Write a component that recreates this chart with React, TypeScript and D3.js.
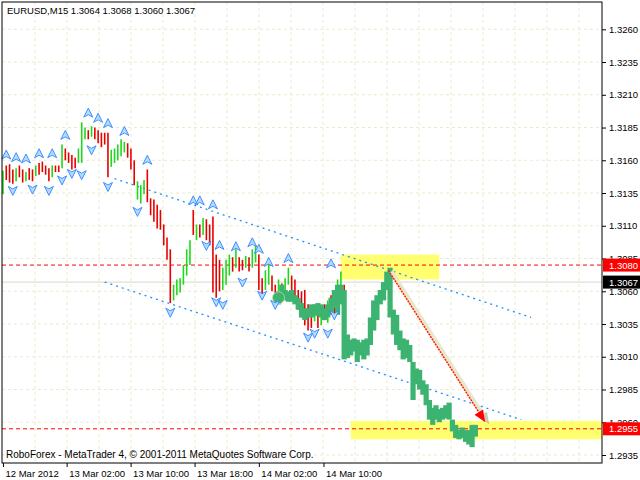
import { useEffect, useRef } from "react";
import { select, scaleLinear, axisRight, axisBottom, range } from "d3";

const FONT = "'Liberation Sans', Arial, sans-serif";

const chartTitle = "EURUSD,M15  1.3064 1.3068 1.3060 1.3067";
const footerText = "RoboForex - MetaTrader 4, \u00a9 2001-2011 MetaQuotes Software Corp.";

const priceTicks = [1.326, 1.3235, 1.321, 1.3185, 1.316, 1.3135, 1.311, 1.3085, 1.306, 1.3035, 1.301, 1.2985, 1.296, 1.2935];
const timeLabels = ["12 Mar 2012", "13 Mar 02:00", "13 Mar 10:00", "13 Mar 18:00", "14 Mar 02:00", "14 Mar 10:00"];
const timeLabelBars = [0, 19.4, 38.9, 58.4, 78, 97.7];

// OHLC bars (high / low / direction)
const barHigh = [
  1.3152, 1.3156, 1.3157, 1.3153, 1.3154, 1.3156, 1.3153, 1.3151, 1.3154, 1.3153,
  1.3156, 1.3158, 1.3159, 1.3156, 1.3154, 1.3156, 1.3156, 1.3156, 1.3172, 1.3169,
  1.3166, 1.3164, 1.3162, 1.3169, 1.3189, 1.3185, 1.3183, 1.3186, 1.3185, 1.3183,
  1.3181, 1.3181, 1.3181, 1.3168, 1.3169, 1.3172, 1.3176, 1.3174, 1.3173, 1.3169,
  1.316, 1.3144, 1.3141, 1.3145, 1.3153, 1.3131, 1.313, 1.3126, 1.3122, 1.3111,
  1.3101, 1.3092, 1.3065, 1.3069, 1.307, 1.308, 1.3092, 1.3099, 1.3122, 1.3111,
  1.3111, 1.3116, 1.3115, 1.3111, 1.3117, 1.3088, 1.3084, 1.3078, 1.3084, 1.3088,
  1.3086, 1.3092, 1.3086, 1.3084, 1.3087, 1.3086, 1.3092, 1.3095, 1.3088, 1.307,
  1.3076, 1.3082, 1.3072, 1.3065, 1.3069, 1.3066, 1.307, 1.3078, 1.3072, 1.3069,
  1.3061, 1.306, 1.3061, 1.305, 1.3047, 1.305, 1.3046, 1.3047, 1.305, 1.3053,
  1.3057, 1.3053, 1.3069, 1.3075, 1.3065,
];
const barLow = [
  1.3134, 1.3145, 1.3143, 1.3142, 1.3144, 1.3147, 1.3143, 1.3144, 1.3145, 1.3144,
  1.3148, 1.3149, 1.3151, 1.3149, 1.3144, 1.3147, 1.3151, 1.3151, 1.3154, 1.316,
  1.3158, 1.3153, 1.3154, 1.3158, 1.3158, 1.3176, 1.3176, 1.3178, 1.3176, 1.3173,
  1.317, 1.3172, 1.3147, 1.3155, 1.3158, 1.316, 1.3163, 1.3166, 1.3162, 1.3153,
  1.3141, 1.313, 1.3127, 1.3134, 1.3128, 1.3118, 1.3113, 1.3108, 1.3107, 1.3095,
  1.3084, 1.3051, 1.3053, 1.3057, 1.3059, 1.3065, 1.3072, 1.308, 1.3103, 1.3099,
  1.3101, 1.3103, 1.3099, 1.3095, 1.3059, 1.3055, 1.306, 1.3061, 1.3065, 1.3072,
  1.3075, 1.3078, 1.3075, 1.3076, 1.3078, 1.3075, 1.3078, 1.3082, 1.3061, 1.3057,
  1.3061, 1.3065, 1.306, 1.3051, 1.3057, 1.3055, 1.306, 1.3065, 1.3061, 1.3053,
  1.3046, 1.304, 1.3034, 1.303, 1.3032, 1.3037, 1.3032, 1.3034, 1.3038, 1.3036,
  1.3042, 1.304, 1.3053, 1.306, 1.304,
];
const barDir = [
  "GRRRGRRGRR", "GRRRRGRRGR", "RRRGGGRGRR", "RRRGGGGGRR", "RGGGRRRRRR",
  "RRGGGGGGRG", "RGRRRRRGGG", "RGRRGRGGRR", "GGRRGRGGRR", "RRRRRGRGRG", "RRGGR",
].join("");

// overlaid price path (thick green)
const greenStart = 84;
const greenHigh = [
  1.306, 1.3065, 1.3061, 1.306, 1.3061, 1.3057, 1.3055, 1.3051, 1.3047, 1.3047,
  1.305, 1.305, 1.3051, 1.305, 1.3047, 1.305, 1.3055, 1.3061, 1.3065, 1.3065,
  1.3061, 1.3027, 1.3023, 1.3024, 1.3023, 1.3021, 1.3023, 1.3024, 1.304, 1.3053,
  1.3057, 1.3061, 1.3067, 1.3075, 1.3078, 1.3046, 1.3042, 1.303, 1.3024, 1.3023,
  1.3019, 1.3004, 1.3001, 1.3, 1.2992, 1.2989, 1.2977, 1.2971, 1.2973, 1.297,
  1.2971, 1.2973, 1.2975, 1.2962, 1.2958, 1.2954, 1.2956, 1.2954, 1.2954, 1.2958, 1.2958,
];
const greenLow = [
  1.305, 1.3053, 1.3053, 1.3052, 1.3052, 1.305, 1.3046, 1.304, 1.3038, 1.304,
  1.304, 1.3042, 1.3041, 1.304, 1.3038, 1.304, 1.3044, 1.3047, 1.3042, 1.305,
  1.3008, 1.3009, 1.3011, 1.3014, 1.3006, 1.3011, 1.3008, 1.3011, 1.3019, 1.303,
  1.3038, 1.305, 1.3053, 1.3061, 1.304, 1.3027, 1.3019, 1.3015, 1.3008, 1.3009,
  1.3006, 1.2977, 1.2989, 1.2985, 1.2981, 1.2973, 1.2962, 1.2958, 1.2962, 1.296,
  1.2962, 1.2963, 1.2962, 1.2953, 1.2948, 1.2947, 1.2948, 1.2945, 1.2943, 1.2941, 1.2949,
];

// fractals: [bar, price]
const upFractals: [number, number][] = [
  [1, 1.3164], [4, 1.3162], [7, 1.3161], [11, 1.3165], [15, 1.3165], [19, 1.3179],
  [26, 1.3196], [29, 1.3192], [32, 1.3188], [37, 1.3182], [44, 1.316], [58, 1.3129],
  [60, 1.3129], [64, 1.3126], [66, 1.3095], [71, 1.3094], [76, 1.3097], [78, 1.3092],
  [81, 1.3082], [87, 1.3085], [100, 1.3081],
];
const downFractals: [number, number][] = [
  [3, 1.3137], [9, 1.3138], [14, 1.3137], [18, 1.3145], [21, 1.315], [24, 1.3149],
  [27, 1.3168], [32, 1.314], [41, 1.3121], [51, 1.3044], [62, 1.3095], [65, 1.3052],
  [67, 1.305], [73, 1.3067], [79, 1.3057], [83, 1.305], [93, 1.3025], [95, 1.3028],
  [99, 1.3028], [101, 1.3042],
];

const levelPrices = [1.308, 1.2955];
const bidPrice = 1.3067;
const channelUpper: [number, number][] = [[34, 1.3146], [161, 1.304]];
const channelLower: [number, number][] = [[31, 1.3067], [158, 1.2962]];
const zones = [
  { from: 103, to: 133, high: 1.3088, low: 1.3069 },
  { from: 106, to: 182.6, high: 1.2961, low: 1.2947 },
];
const forecastArrow: [number, number][] = [[117.5, 1.3076], [147, 1.296]];
const markerPoint: [number, number] = [84, 1.3055];

export default function App() {
  const yAxisRef = useRef<SVGGElement>(null);
  const xAxisRef = useRef<SVGGElement>(null);

  const left = 2, right = 602, top = 2, bottom = 463;
  const x = scaleLinear().domain([-0.3, 182.6]).range([left, right]);
  const y = scaleLinear().domain([1.2935, 1.326]).range([455, 29.3]);

  useEffect(() => {
    const ya = select(yAxisRef.current);
    ya.call(axisRight(y).tickValues(priceTicks).tickSize(4).tickPadding(3).tickFormat((d: any) => (+d).toFixed(4)));
    ya.select(".domain").remove();
    ya.attr("font-family", FONT).attr("font-size", 9.5);
    ya.selectAll("line").attr("stroke", "#000");
    ya.selectAll("text").attr("fill", "#000");

    const xa = select(xAxisRef.current);
    xa.call(axisBottom(x).tickValues(timeLabelBars).tickSize(4).tickFormat((d: any, i: number) => timeLabels[i]));
    xa.select(".domain").remove();
    xa.attr("font-family", FONT).attr("font-size", 9.5);
    xa.selectAll("line").attr("stroke", "#000");
    xa.selectAll("text").attr("text-anchor", "start").attr("x", 2).attr("fill", "#000");
  }, []);

  // arrow geometry
  const [a0, a1] = forecastArrow;
  const p1 = [x(a0[0]), y(a0[1])];
  const p2 = [x(a1[0]), y(a1[1])];
  const len = Math.hypot(p2[0] - p1[0], p2[1] - p1[1]);
  const ux = (p2[0] - p1[0]) / len, uy = (p2[1] - p1[1]) / len;
  const hb = [p2[0] - ux * 12, p2[1] - uy * 12];
  const head = `${p2[0]},${p2[1]} ${hb[0] - uy * 5},${hb[1] + ux * 5} ${hb[0] + uy * 5},${hb[1] - ux * 5}`;

  const upPath = "M0,-5 L4.5,4 L0,1.5 L-4.5,4 Z";
  const downPath = "M0,5 L4.5,-4 L0,-1.5 L-4.5,-4 Z";

  return (
    <svg width={640} height={480} style={{ position: "absolute", left: 0, top: 0, background: "#fff" }}>
      <rect width={640} height={480} fill="#fff" />
      {/* grid */}
      <g stroke="#ebebcb" strokeDasharray="3,3">
        {priceTicks.map((p) => (
          <line key={p} x1={left} x2={right} y1={y(p)} y2={y(p)} />
        ))}
        {range(35, right, 32).map((gx) => (
          <line key={gx} x1={gx} x2={gx} y1={top} y2={bottom} />
        ))}
      </g>
      {/* zones */}
      {zones.map((z, i) => (
        <rect key={i} x={x(z.from)} width={Math.min(x(z.to), right) - x(z.from)} y={y(z.high)} height={y(z.low) - y(z.high)} fill="#ffff70" />
      ))}
      {/* bid line */}
      <line x1={left} x2={right} y1={y(bidPrice)} y2={y(bidPrice)} stroke="#d8d8c4" />
      {/* levels */}
      {levelPrices.map((p) => (
        <line key={p} x1={left} x2={right} y1={y(p)} y2={y(p)} stroke="#ff0000" strokeDasharray="4,3" />
      ))}
      {/* channel */}
      {[channelUpper, channelLower].map((c, i) => (
        <line key={i} x1={x(c[0][0])} y1={y(c[0][1])} x2={x(c[1][0])} y2={y(c[1][1])} stroke="#1e90ff" strokeDasharray="2,4" strokeWidth={1.3} />
      ))}
      {/* bars */}
      {barHigh.map((h, i) => (
        <line key={i} x1={x(i)} x2={x(i)} y1={y(h)} y2={y(barLow[i])} stroke={barDir[i] === "G" ? "#1ed81e" : "#e80000"} strokeWidth={1.6} />
      ))}
      {/* green path */}
      {greenHigh.map((h, k) => {
        const lo = greenLow[k];
        const hi = k > 0 ? Math.max(h, greenLow[k - 1]) : h;
        const lw = k > 0 ? Math.min(lo, greenHigh[k - 1]) : lo;
        const cx = x(greenStart + k);
        return <rect key={k} x={cx - 2.6} width={5.2} y={y(hi)} height={y(lw) - y(hi)} fill="#3cb371" />;
      })}
      <circle cx={x(markerPoint[0])} cy={y(markerPoint[1])} r={6} fill="#3cb371" stroke="#c8d890" strokeWidth={0.8} />
      {/* fractals */}
      <g fill="#b4dcff" stroke="#2f86ff" strokeWidth={0.9}>
        {upFractals.map(([b, p], i) => (
          <path key={"u" + i} d={upPath} transform={`translate(${x(b)},${y(p)})`} />
        ))}
        {downFractals.map(([b, p], i) => (
          <path key={"d" + i} d={downPath} transform={`translate(${x(b)},${y(p)})`} />
        ))}
      </g>
      {/* forecast arrow */}
      <line x1={p1[0] + 3} y1={p1[1] + 1} x2={hb[0] + 3} y2={hb[1] + 1} stroke="#e8e6cc" strokeWidth={4} />
      <polygon points={head} fill="#a8a890" opacity={0.6} transform="translate(4,2)" />
      <line x1={p1[0]} y1={p1[1]} x2={hb[0]} y2={hb[1]} stroke="#ff2000" strokeWidth={1.5} strokeDasharray="2,1" />
      <polygon points={head} fill="#ff0000" />
      {/* border */}
      <rect x={left} y={top} width={right - left} height={bottom - top} fill="none" stroke="#000" strokeWidth={1} />
      <g ref={yAxisRef} transform={`translate(${right},0)`} />
      <g ref={xAxisRef} transform={`translate(0,${bottom})`} />
      {/* price boxes */}
      {[...levelPrices.map((p) => ({ p, c: "#ff0000" })), { p: bidPrice, c: "#000" }].map(({ p, c }) => (
        <g key={p}>
          <rect x={603} y={y(p) - 6.5} width={37} height={13} fill={c} />
          <text x={609} y={y(p) + 3.5} fill="#fff" fontFamily={FONT} fontSize={9.5}>{p.toFixed(4)}</text>
        </g>
      ))}
      <text x={7} y={14} fontFamily={FONT} fontSize={9.5} fill="#000">{chartTitle}</text>
      <text x={6} y={458} fontFamily={FONT} fontSize={10} fill="#000">{footerText}</text>
    </svg>
  );
}
